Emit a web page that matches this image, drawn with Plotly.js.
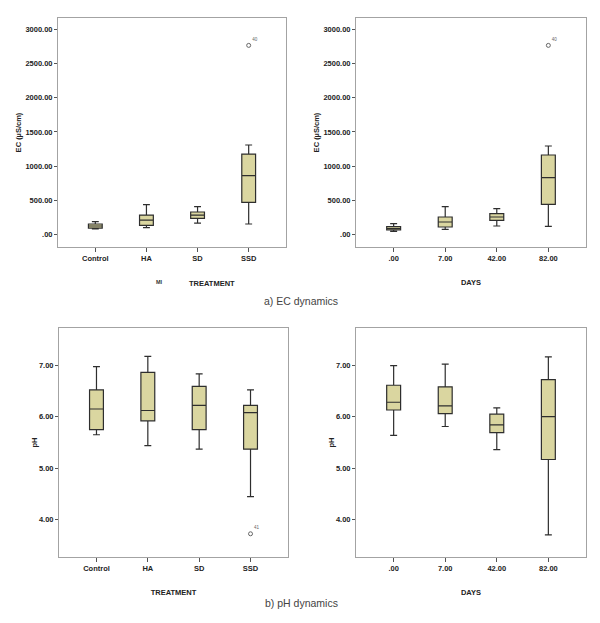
<!DOCTYPE html>
<html>
<head>
<meta charset="utf-8">
<script src="https://cdn.plot.ly/plotly-3.0.1.min.js"></script>
<style>html,body{margin:0;padding:0;background:#fff;}#chart{width:600px;height:623px;}</style>
</head>
<body>
<div id="chart"></div>
<script>
// ---- Data ----
const treatCats = ['Control', 'HA', 'SD', 'SSD'];
const dayCats = ['.00', '7.00', '42.00', '82.00'];

// EC by treatment
const ecTreatLower = [83, 102, 170, 156];
const ecTreatQ1 = [97, 136, 239, 472];
const ecTreatMedian = [127, 214, 287, 862];
const ecTreatQ3 = [156, 287, 331, 1178];
const ecTreatUpper = [190, 438, 409, 1310];
const ecTreatOutX = ['SSD'];
const ecTreatOutY = [2765];
const ecTreatOutLabel = ['40'];

// EC by days
const ecDayLower = [49, 78, 127, 122];
const ecDayQ1 = [68, 112, 209, 443];
const ecDayMedian = [88, 185, 258, 833];
const ecDayQ3 = [117, 258, 307, 1164];
const ecDayUpper = [161, 409, 380, 1295];
const ecDayOutX = ['82.00'];
const ecDayOutY = [2765];
const ecDayOutLabel = ['40'];

// pH by treatment
const phTreatLower = [5.65, 5.44, 5.37, 4.45];
const phTreatQ1 = [5.75, 5.92, 5.75, 5.37];
const phTreatMedian = [6.15, 6.12, 6.22, 6.08];
const phTreatQ3 = [6.52, 6.86, 6.59, 6.22];
const phTreatUpper = [6.97, 7.17, 6.83, 6.52];
const phTreatOutX = ['SSD'];
const phTreatOutY = [3.73];
const phTreatOutLabel = ['41'];

// pH by days
const phDayLower = [5.64, 5.81, 5.36, 3.71];
const phDayQ1 = [6.13, 6.06, 5.69, 5.17];
const phDayMedian = [6.28, 6.21, 5.84, 6.00];
const phDayQ3 = [6.61, 6.58, 6.05, 6.72];
const phDayUpper = [6.99, 7.02, 6.17, 7.16];

// EC / pH tick labels
const ecTickVals = [0, 500, 1000, 1500, 2000, 2500, 3000];
const ecTickText = ['.00', '500.00', '1000.00', '1500.00', '2000.00', '2500.00', '3000.00'];
const phTickVals = [4, 5, 6, 7];
const phTickText = ['4.00', '5.00', '6.00', '7.00'];

// ---- Styling ----
const W = 600, H = 623;
const boxFill = '#dad6a0';
const boxLine = '#2e2e2e';
const frameColor = '#a3a3a3';
const FAM = 'Liberation Sans, Arial, sans-serif';
const tickFont = {family: FAM, size: 7.5, color: '#222', weight: 'bold'};
const titleFont = {family: FAM, size: 7.5, color: '#222', weight: 'bold'};

function boxTrace(cats, lo, q1, med, q3, hi, xa, ya) {
  return {
    type: 'box', x: cats, q1: q1, median: med, q3: q3,
    lowerfence: lo, upperfence: hi,
    xaxis: xa, yaxis: ya, width: 0.27, whiskerwidth: 0.5,
    fillcolor: boxFill, line: {color: boxLine, width: 1.2},
    boxpoints: false, showlegend: false, hoverinfo: 'y'
  };
}
function outTrace(xs, ys, labels, xa, ya) {
  return {
    type: 'scatter', mode: 'markers+text', x: xs, y: ys, text: labels,
    textposition: 'top right', textfont: {size: 4.5, color: '#666', family: FAM},
    marker: {symbol: 'circle-open', size: 4, color: '#666', line: {width: 1}},
    xaxis: xa, yaxis: ya, showlegend: false, cliponaxis: false
  };
}

const traces = [
  boxTrace(treatCats, ecTreatLower, ecTreatQ1, ecTreatMedian, ecTreatQ3, ecTreatUpper, 'x', 'y'),
  outTrace(ecTreatOutX, ecTreatOutY, ecTreatOutLabel, 'x', 'y'),
  boxTrace(dayCats, ecDayLower, ecDayQ1, ecDayMedian, ecDayQ3, ecDayUpper, 'x2', 'y2'),
  outTrace(ecDayOutX, ecDayOutY, ecDayOutLabel, 'x2', 'y2'),
  boxTrace(treatCats, phTreatLower, phTreatQ1, phTreatMedian, phTreatQ3, phTreatUpper, 'x3', 'y3'),
  outTrace(phTreatOutX, phTreatOutY, phTreatOutLabel, 'x3', 'y3'),
  boxTrace(dayCats, phDayLower, phDayQ1, phDayMedian, phDayQ3, phDayUpper, 'x4', 'y4')
];

function xd(l, r) { return [l / W, r / W]; }
function yd(t, b) { return [1 - b / H, 1 - t / H]; }

function xAxis(dom, anchor, title, standoff) {
  return {
    domain: dom, anchor: anchor, type: 'category', range: [-0.73, 3.73],
    showline: true, mirror: true, linecolor: frameColor, linewidth: 1,
    ticks: 'outside', ticklen: 4, tickcolor: '#555', tickwidth: 1,
    showgrid: false, zeroline: false, tickfont: tickFont, fixedrange: true,
    title: {text: title, font: titleFont, standoff: standoff}
  };
}
function yAxis(dom, anchor, range, tv, tt, title, standoff) {
  return {
    domain: dom, anchor: anchor, range: range,
    tickmode: 'array', tickvals: tv, ticktext: tt,
    showline: true, mirror: true, linecolor: frameColor, linewidth: 1,
    ticks: 'outside', ticklen: 3, tickcolor: '#555', tickwidth: 1,
    showgrid: false, zeroline: false, tickfont: tickFont, fixedrange: true,
    title: {text: title, font: titleFont, standoff: standoff}
  };
}

const ecRange = [-180, 3165];
const phRange = [3.28, 7.72];

const layout = {
  width: W, height: H, autosize: false,
  margin: {l: 0, r: 0, t: 0, b: 0},
  paper_bgcolor: '#fff', plot_bgcolor: '#fff',
  showlegend: false,
  xaxis: xAxis(xd(58, 286), 'y', '', 19),
  yaxis: yAxis(yd(18, 247), 'x', ecRange, ecTickVals, ecTickText, 'EC (µS/cm)', 2),
  xaxis2: xAxis(xd(356, 586), 'y2', 'DAYS', 17),
  yaxis2: yAxis(yd(18, 247), 'x2', ecRange, ecTickVals, ecTickText, 'EC (µS/cm)', 2),
  xaxis3: xAxis(xd(59, 288), 'y3', 'TREATMENT', 17),
  yaxis3: yAxis(yd(328, 557), 'x3', phRange, phTickVals, phTickText, 'pH', 0),
  xaxis4: xAxis(xd(356, 586), 'y4', 'DAYS', 17),
  yaxis4: yAxis(yd(328, 557), 'x4', phRange, phTickVals, phTickText, 'pH', 0),
  annotations: [
    {text: 'MI', xref: 'paper', yref: 'paper', x: 154 / W, y: 1 - 282 / H, showarrow: false,
     font: {family: FAM, size: 5.5, color: '#333', weight: 'bold'}},
    {text: 'TREATMENT', xref: 'paper', yref: 'paper', x: 187 / W, y: 1 - 283 / H, showarrow: false,
     font: titleFont},
    {text: 'a) EC dynamics', xref: 'paper', yref: 'paper', x: 301 / W, y: 1 - 300.5 / H, showarrow: false,
     font: {family: FAM, size: 10.5, color: '#444'}},
    {text: 'b) pH dynamics', xref: 'paper', yref: 'paper', x: 301 / W, y: 1 - 610.5 / H, showarrow: false,
     font: {family: FAM, size: 10.5, color: '#444'}}
  ]
};

Plotly.newPlot('chart', traces, layout, {displayModeBar: false, staticPlot: true});
</script>
</body>
</html>
